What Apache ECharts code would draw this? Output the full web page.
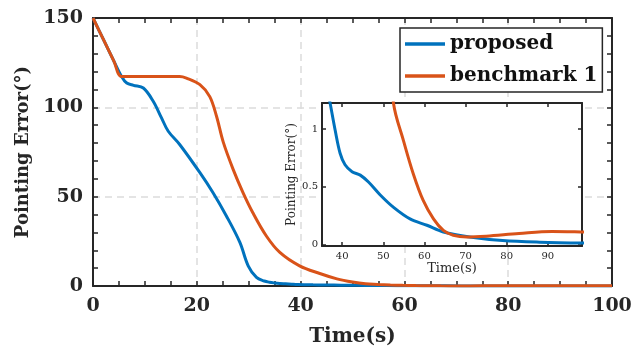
<!DOCTYPE html>
<html>
<head>
<meta charset="utf-8">
<script src="https://cdn.jsdelivr.net/npm/echarts@6/dist/echarts.min.js"></script>
<style>
  html, body { margin: 0; padding: 0; background: #fff; }
  #chart { width: 643px; height: 352px; }
</style>
</head>
<body>
<div id="chart"></div>
<script>
// ---- data ----
const proposedTime = [0, 2, 4, 5.5, 6.5, 7.8, 9.7, 11.6, 13.2, 14.5, 16.7, 20.6, 23.1, 25.7, 28.3, 29.9, 31.5, 33, 34, 35, 36, 37.1, 38.3, 39.5, 40.7, 42.4, 44.4, 46.4, 49.2, 52.5, 56.5, 60.6, 64.6, 71, 79, 88, 100];
const proposedErr  = [150, 138, 126, 117.3, 113.6, 112.3, 110.8, 103.4, 94.1, 86.6, 79.2, 63.4, 52.3, 39.2, 24.4, 11.3, 4.8, 2.8, 2.1, 1.7, 1.42, 1.22, 0.99, 0.79, 0.69, 0.63, 0.6, 0.54, 0.43, 0.32, 0.22, 0.165, 0.107, 0.063, 0.032, 0.018, 0.01];

const benchTime = [0, 2, 4, 5.5, 8, 12, 16.7, 18, 20.6, 22.5, 23.8, 25.1, 27, 28.9, 30.8, 33.4, 36, 39.8, 43.7, 47, 50, 52.5, 54.9, 57.3, 59.7, 62.2, 64.6, 67, 70.3, 75, 83, 91, 98, 100];
const benchErr  = [150, 138, 126, 117.3, 117.3, 117.3, 117.3, 116.4, 112.7, 106, 95, 80.5, 65.3, 52.3, 41, 28, 18.8, 11.3, 7.0, 4.0, 2.2, 1.22, 0.9, 0.61, 0.38, 0.22, 0.12, 0.078, 0.063, 0.07, 0.093, 0.11, 0.107, 0.105];

const seriesNames = ['proposed', 'benchmark 1'];
const mainXTicks = [0, 20, 40, 60, 80, 100];
const mainYTicks = [0, 50, 100, 150];
const insetXTicks = [40, 50, 60, 70, 80, 90];
const insetYTicks = [0, 0.5, 1];

// ---- build ----
const pairs = (t, v) => t.map((x, i) => [x, v[i]]);
const proposedData = pairs(proposedTime, proposedErr);
const benchData = pairs(benchTime, benchErr);

const BLUE = '#0072BD', ORANGE = '#D95319', INK = '#262626';
const SERIF = 'DejaVu Serif';

const mainAxisCommon = {
  axisLine: { show: true, onZero: false, lineStyle: { color: INK, width: 2 } },
  axisTick: { show: true, inside: true, length: 5, lineStyle: { color: INK, width: 1.5 } },
  minorTick: { show: true, length: 5, lineStyle: { color: INK, width: 1.5 } },
  splitLine: { show: false }
};
const insetAxisCommon = {
  axisLine: { show: true, onZero: false, lineStyle: { color: INK, width: 2 } },
  splitLine: { show: false },
  z: 6
};

function lineSeries(name, data, color, xi, yi, z) {
  return { name: name, type: 'line', xAxisIndex: xi, yAxisIndex: yi, data: data,
    symbol: 'none', showSymbol: false, smooth: 0.35, color: color,
    lineStyle: { width: 3, color: color }, clip: true, z: z };
}

const chart = echarts.init(document.getElementById('chart'), null, { renderer: 'canvas' });
chart.setOption({
  animation: false,
  backgroundColor: '#fff',
  textStyle: { fontFamily: SERIF },
  grid: [
    { left: 93, right: 31, top: 18, bottom: 65 },
    { left: 322, top: 103, width: 260, height: 143, show: true, backgroundColor: '#fff', borderWidth: 0, z: 5 }
  ],
  legend: {
    data: seriesNames,
    orient: 'vertical',
    left: 400, top: 28,
    padding: [6, 5, 6, 5],
    icon: 'rect',
    itemWidth: 40, itemHeight: 3.5, itemGap: 12, itemTextGap: 4,
    borderColor: INK, borderWidth: 1.5,
    backgroundColor: '#fff',
    textStyle: { fontFamily: SERIF, fontWeight: 'bold', fontSize: 20, color: '#111', lineHeight: 20 },
    z: 10
  },
  xAxis: [
    Object.assign({}, mainAxisCommon, {
      gridIndex: 0, type: 'value', min: 0, max: 100, interval: 20, position: 'bottom',
      minorTick: Object.assign({}, mainAxisCommon.minorTick, { splitNumber: 4 }),
      splitLine: { show: true, lineStyle: { color: '#dcdcdc', width: 1.5, type: [7, 5] } },
      axisLabel: { customValues: mainXTicks, margin: 11, color: INK, fontSize: 19, fontWeight: 'bold', fontFamily: SERIF },
      name: 'Time(s)', nameLocation: 'middle', nameGap: 41,
      nameTextStyle: { fontSize: 20, fontWeight: 'bold', color: INK, fontFamily: SERIF }
    }),
    Object.assign({}, mainAxisCommon, {
      gridIndex: 0, type: 'value', min: 0, max: 100, interval: 20, position: 'top',
      minorTick: Object.assign({}, mainAxisCommon.minorTick, { splitNumber: 4 }),
      axisLabel: { show: false }
    }),
    Object.assign({}, insetAxisCommon, {
      gridIndex: 1, type: 'value', min: 35.1, max: 98.3, position: 'bottom',
      axisTick: { show: true, inside: true, length: 4, customValues: insetXTicks, lineStyle: { color: INK, width: 1.5 } },
      axisLabel: { customValues: insetXTicks, margin: 5, color: INK, fontSize: 10, fontFamily: SERIF },
      name: 'Time(s)', nameLocation: 'middle', nameGap: 13,
      nameTextStyle: { fontSize: 13, color: INK, fontFamily: SERIF }
    }),
    Object.assign({}, insetAxisCommon, {
      gridIndex: 1, type: 'value', min: 35.1, max: 98.3, position: 'top',
      axisTick: { show: true, inside: true, length: 4, customValues: insetXTicks, lineStyle: { color: INK, width: 1.5 } },
      axisLabel: { show: false }
    })
  ],
  yAxis: [
    Object.assign({}, mainAxisCommon, {
      gridIndex: 0, type: 'value', min: 0, max: 150, interval: 50, position: 'left',
      minorTick: Object.assign({}, mainAxisCommon.minorTick, { splitNumber: 5 }),
      splitLine: { show: true, lineStyle: { color: '#dcdcdc', width: 1.5, type: [7, 5] } },
      axisLabel: { customValues: mainYTicks, margin: 10, color: INK, fontSize: 19, fontWeight: 'bold', fontFamily: SERIF },
      name: 'Pointing Error(°)', nameLocation: 'middle', nameGap: 57,
      nameTextStyle: { fontSize: 18, fontWeight: 'bold', color: INK, fontFamily: SERIF }
    }),
    Object.assign({}, mainAxisCommon, {
      gridIndex: 0, type: 'value', min: 0, max: 150, interval: 50, position: 'right',
      minorTick: Object.assign({}, mainAxisCommon.minorTick, { splitNumber: 5 }),
      axisLabel: { show: false }
    }),
    Object.assign({}, insetAxisCommon, {
      gridIndex: 1, type: 'value', min: -0.015, max: 1.226, position: 'left',
      axisTick: { show: true, inside: true, length: 4, customValues: insetYTicks, lineStyle: { color: INK, width: 1.5 } },
      axisLabel: { customValues: insetYTicks, margin: 4, color: INK, fontSize: 10, fontFamily: SERIF },
      name: 'Pointing Error(°)', nameLocation: 'middle', nameGap: 22,
      nameTextStyle: { fontSize: 12, color: INK, fontFamily: SERIF }
    }),
    Object.assign({}, insetAxisCommon, {
      gridIndex: 1, type: 'value', min: -0.015, max: 1.226, position: 'right',
      axisTick: { show: true, inside: true, length: 4, customValues: insetYTicks, lineStyle: { color: INK, width: 1.5 } },
      axisLabel: { show: false }
    })
  ],
  series: [
    lineSeries(seriesNames[0], proposedData, BLUE, 0, 0, 3),
    lineSeries(seriesNames[1], benchData, ORANGE, 0, 0, 3),
    lineSeries(seriesNames[0], proposedData, BLUE, 2, 2, 7),
    lineSeries(seriesNames[1], benchData, ORANGE, 2, 2, 7)
  ]
});
</script>
</body>
</html>
